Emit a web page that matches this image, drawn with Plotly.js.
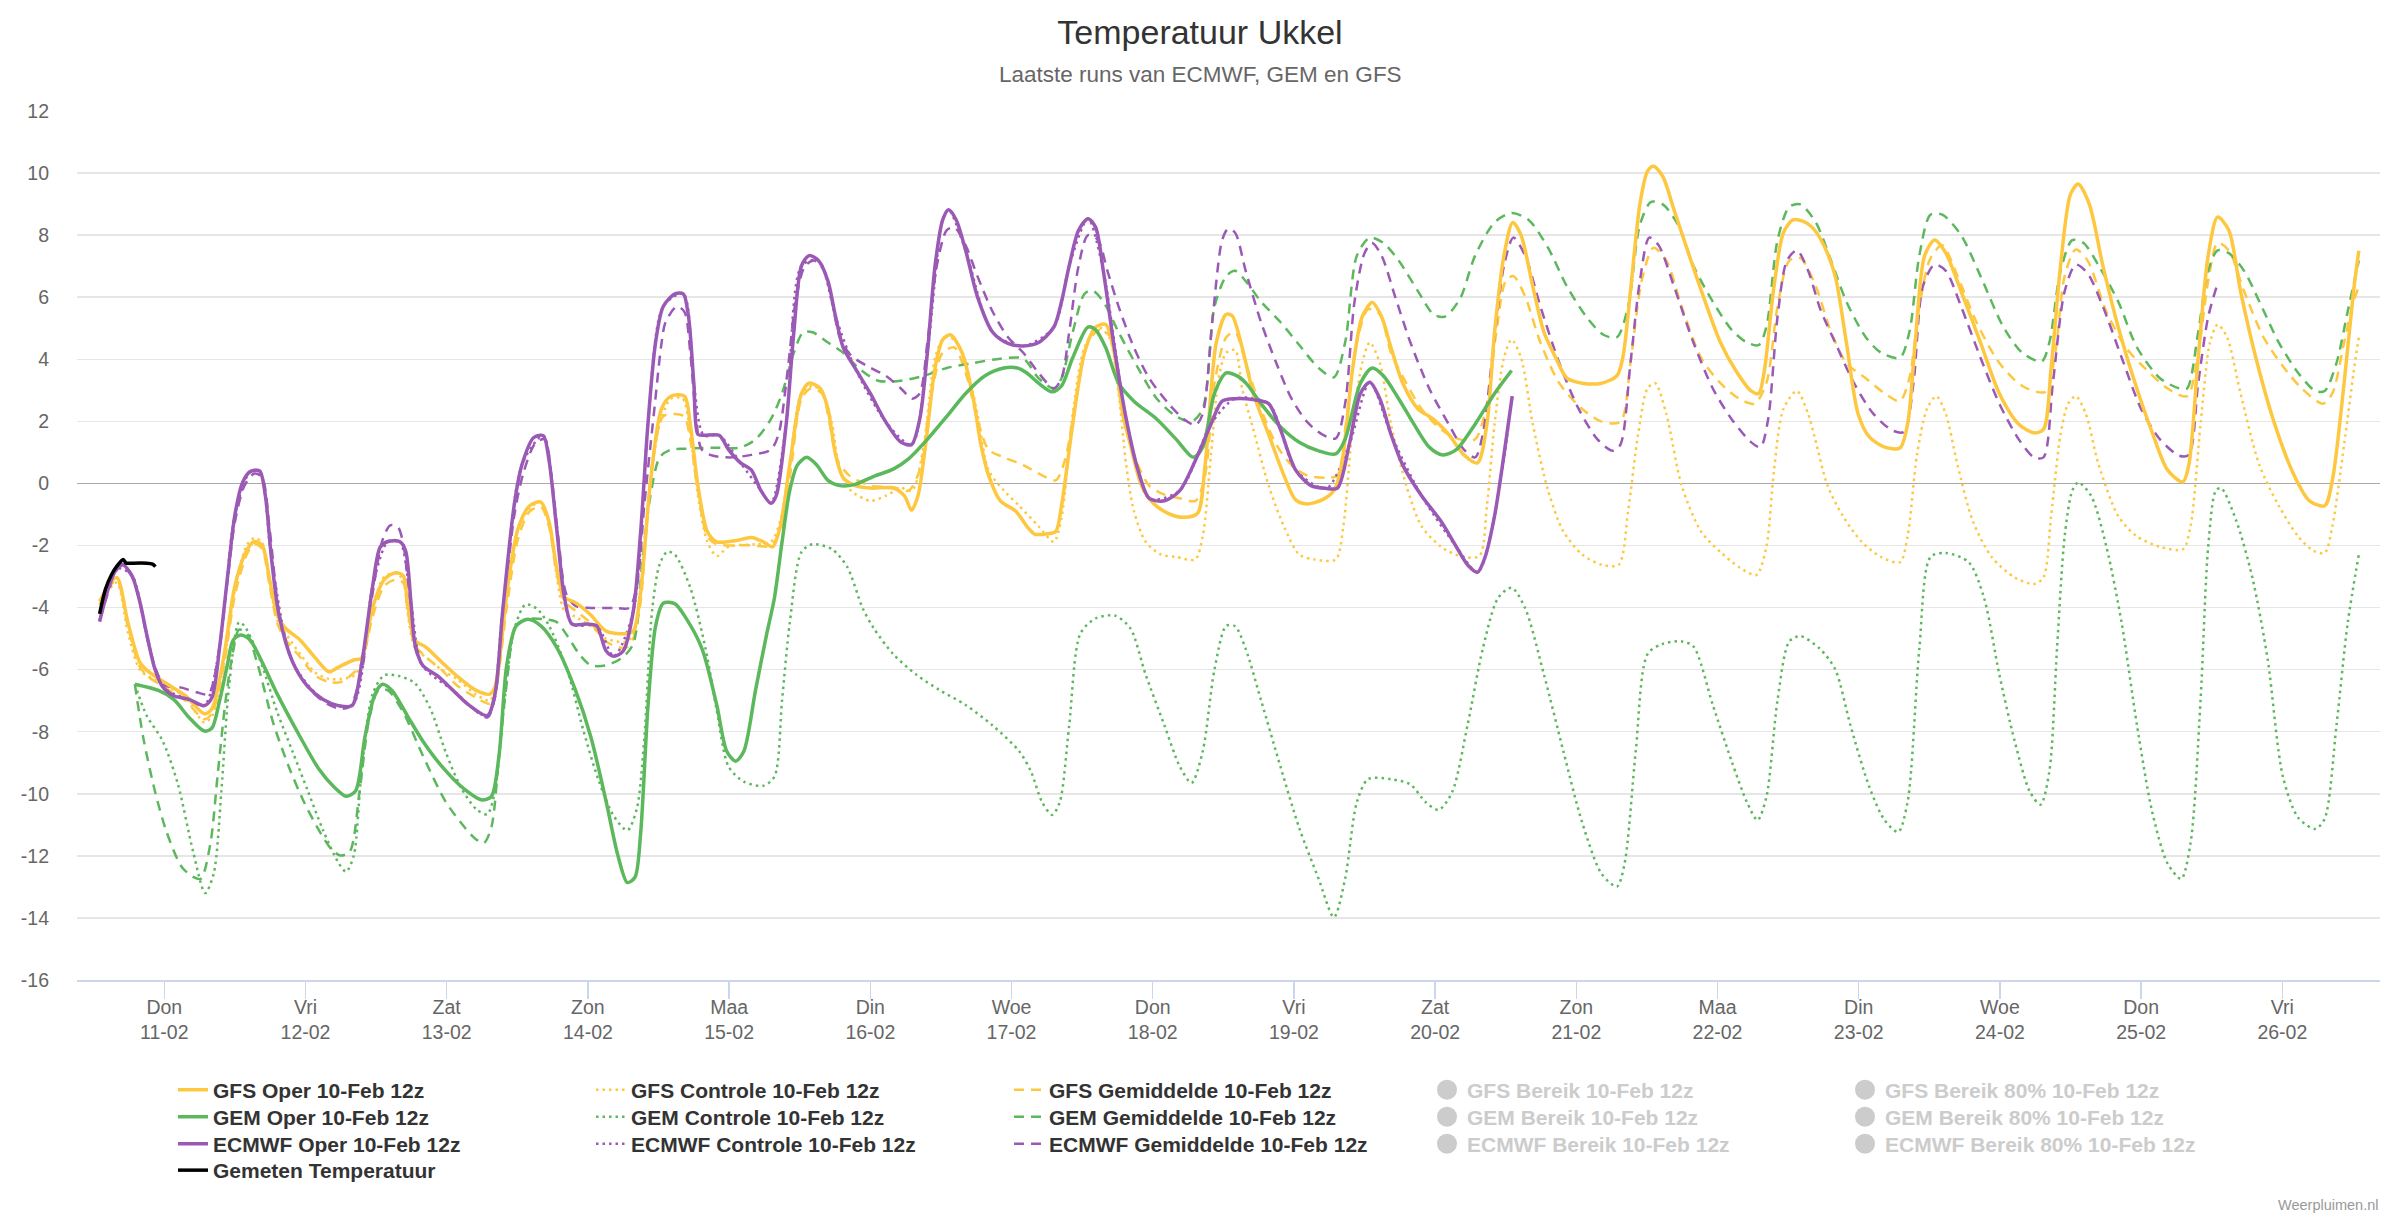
<!DOCTYPE html>
<html>
<head>
<meta charset="utf-8">
<script src="https://cdn.plot.ly/plotly-3.0.1.min.js"></script>
<style>
html,body{margin:0;padding:0;background:#fff;}
#chart{width:2400px;height:1219px;}
</style>
</head>
<body>
<div id="chart"></div>
<script>
// ---- time axis: hours relative to 11-02 00:00 (local) ----
const baseDay = [2021, 1, 11];
const axisStartH = -14.84;
const axisEndH = 376.6;

const tickDays = ['2021-02-11','2021-02-12','2021-02-13','2021-02-14','2021-02-15','2021-02-16','2021-02-17','2021-02-18','2021-02-19','2021-02-20','2021-02-21','2021-02-22','2021-02-23','2021-02-24','2021-02-25','2021-02-26'];
const tickDayNames = ['Don','Vri','Zat','Zon','Maa','Din','Woe','Don','Vri','Zat','Zon','Maa','Din','Woe','Don','Vri'];
const tickDates = ['11-02','12-02','13-02','14-02','15-02','16-02','17-02','18-02','19-02','20-02','21-02','22-02','23-02','24-02','25-02','26-02'];
const yTickVals = [-16,-14,-12,-10,-8,-6,-4,-2,0,2,4,6,8,10,12];
const yTickText = ['-16','-14','-12','-10','-8','-6','-4','-2','0','2','4','6','8','10','12'];

// ---- GFS Oper ----
const gfsOperH = [-11,-8.1,-6.2,-4.2,-2.9,0.3,3.6,6.8,8.1,10.1,12,14,15.3,16.6,17.9,19.2,20.5,23.1,25.7,28,29.6,32.2,33.5,35.4,37.4,39.3,40.6,41.3,42.6,44.5,47.1,49.7,53,55.3,56.2,58.2,60.1,62.1,64,65.4,66.7,68,69.9,72.5,75.1,78.4,79.7,80.9,82.6,84.5,86.1,88.4,89.4,90.7,92.3,93.9,97.2,99.8,101.8,103.4,104.7,106.3,108.3,109.6,111.5,112.8,114.1,115.4,117.4,120,123.9,125.8,127,128.1,129.4,131,132.3,133.6,135.6,137.5,138.8,140.1,142.1,144.7,146.6,147.9,149.9,151.5,152.5,154.4,156.4,158.3,160,161.3,162.9,164.2,166.1,168.1,170.7,173.3,175.6,176.9,178.8,180.5,181.5,183.2,185.1,187.7,190.3,192.3,194.2,196.8,198.8,200.1,202,203.6,205.3,206.9,208.5,210.5,213.1,215.7,218.3,220.9,223.2,224.8,226.1,227.7,229.2,230.6,232.6,234.5,236.5,238.4,241,244.3,246.9,247.9,249.2,250.8,252.1,253.1,254.7,256.6,259.2,261.9,264.5,267.1,269.7,271,271.9,273.6,275.2,276.8,278.5,280.1,282,284,285.9,287.9,289.8,292.4,295,296.3,297.6,299.2,300.9,302.8,305.4,308.7,311.9,315.2,317.8,319.4,320.7,322.3,324,325.3,327.2,329.5,332.1,334.7,338,340.5,343.1,344.1,345.7,347.4,349,350.9,352.9,355.5,358.7,362,364.6,367.2,368.5,370.5,372.1,373];
const gfsOperT = [-3.8,-3.03,-4.47,-5.75,-6.03,-6.44,-6.84,-7.42,-7.25,-5.6,-3.3,-2.16,-1.87,-1.98,-3.09,-4.24,-4.65,-5.05,-5.63,-6.07,-5.92,-5.69,-5.63,-4.0,-3.09,-2.88,-2.97,-3.78,-5.05,-5.28,-5.75,-6.2,-6.67,-6.79,-6.56,-3.55,-1.47,-0.72,-0.6,-1.24,-2.74,-3.66,-3.84,-4.24,-4.76,-4.84,-4.76,-3.6,0.0,2.4,2.81,2.81,1.9,-0.07,-1.55,-1.88,-1.84,-1.74,-1.88,-2.04,-1.38,0.59,2.9,3.23,3.06,2.4,0.92,0.18,-0.07,-0.15,-0.15,-0.4,-0.86,-0.4,1.25,3.72,4.63,4.79,4.21,2.73,1.25,0.26,-0.56,-0.89,-1.38,-1.63,-1.63,-1.55,-0.72,1.91,4.21,5.04,5.12,4.38,2.24,1.25,-0.07,-0.64,-0.97,-1.09,-0.97,0.59,4.54,5.45,5.4,4.38,2.9,1.58,0.26,-0.53,-0.66,-0.53,-0.23,0.59,3.72,5.37,5.83,5.37,4.38,3.23,2.4,2.07,1.58,0.92,0.66,1.91,4.87,7.34,8.41,8.0,6.35,4.87,4.05,3.39,3.23,3.23,3.47,4.05,6.19,8.99,10.06,10.22,9.89,8.82,7.34,5.86,4.54,3.64,2.98,2.9,3.56,6.35,8.08,8.49,8.45,8.25,7.7,6.68,4.54,2.24,1.5,1.17,1.14,1.91,4.54,7.34,7.84,7.42,6.19,4.54,2.9,1.91,1.63,1.74,3.72,7.01,9.32,9.65,8.99,7.01,5.04,3.39,1.58,0.43,0.05,0.59,4.05,7.34,8.58,8.16,6.19,4.05,1.91,0.26,-0.56,-0.72,0.1,3.23,6.19,7.5];

// ---- GFS Controle ----
const gfsCtrlH = [-11,-8.1,-6.2,-4.2,-2.9,0.3,3.6,6.8,8.1,10.1,12,14,15.3,16.6,17.9,19.2,20.5,23.1,25.7,28,30,32.2,33.5,35.4,37.4,39.3,40.6,41.3,42.6,44.5,47.1,49.7,53,55.3,56.2,58.2,60.1,62.1,64,65.4,66.7,68,69.9,72.5,75.1,78.4,79.7,80.9,82.6,84.2,86.1,88.1,89.4,90.7,92.3,93.9,95.9,100.5,103.1,104.7,106.3,108.3,110.2,111.8,113.5,114.8,116.7,120,122.6,125.2,127.1,129.1,131,132.6,134.3,136.2,138.2,140.1,142.7,145.3,148.6,151.2,152.5,154.4,156.4,158.7,160.6,162.2,163.5,164.8,166.8,169.4,172,175.2,176.5,177.9,179.2,180.5,182,183.2,185.1,187.7,190.3,192.9,195.5,199.1,200.4,202,203.6,204.9,206.6,208.5,211.1,213.7,217,220.2,223.5,224.8,226.1,227.7,229,230.6,232.6,235.2,237.8,241,244.3,247.2,248.8,250.5,252.1,253.4,255.3,257.9,261.2,264.5,267.7,270.6,272.3,273.6,275.2,277.5,279.4,280.5,282.7,285.3,288.5,291.8,295,296.3,297.9,299.6,301.2,302.8,304.8,307.4,310.6,314.5,317.8,319.4,320.7,322.3,323.6,324.9,326.6,328.8,332.1,335.3,339.2,343.1,344.4,346.1,347.7,349,350.6,352.9,356.1,359.4,362.7,365.3,367.2,368.5,370.5,372.1,373];
const gfsCtrlT = [-3.9,-3.2,-4.8,-6.0,-6.2,-6.5,-6.9,-7.7,-7.5,-5.8,-3.4,-2.0,-1.76,-1.9,-3.2,-4.4,-4.8,-5.5,-6.1,-6.3,-6.3,-6.2,-5.8,-4.0,-3.0,-2.9,-3.1,-4.1,-5.3,-5.6,-6.0,-6.3,-6.8,-7.0,-6.7,-3.7,-1.5,-0.8,-0.6,-1.3,-3.0,-4.1,-4.3,-4.6,-5.0,-5.1,-4.9,-3.7,0.0,1.9,2.73,2.73,1.58,-0.4,-1.88,-2.34,-2.04,-1.96,-1.88,-1.2,0.6,2.9,3.14,2.95,1.91,0.43,-0.23,-0.56,-0.4,-0.15,-0.23,1.25,4.05,4.71,4.63,3.88,2.24,0.43,-0.23,-0.72,-1.38,-1.88,-1.1,2.24,4.38,5.04,4.71,2.9,0.59,-0.89,-1.88,-2.29,-2.37,-2.45,-1.7,0.92,3.39,4.21,4.3,3.06,1.74,-0.07,-1.38,-2.29,-2.45,-2.45,-1.38,1.91,3.88,4.54,3.88,1.91,-0.07,-1.38,-2.04,-2.34,-2.34,-0.72,1.91,4.05,4.63,4.05,1.91,-0.23,-1.55,-2.29,-2.62,-2.62,-0.89,1.58,3.06,3.23,2.24,-0.07,-1.55,-2.21,-2.7,-2.95,-2.04,0.43,2.4,2.98,2.24,1.5,-0.07,-1.05,-1.88,-2.37,-2.54,-1.71,0.92,2.4,2.81,2.24,0.59,-1.22,-2.37,-3.03,-3.24,-3.03,-1.05,1.58,2.57,2.81,2.24,0.59,-1.05,-1.71,-2.04,-2.12,-1.38,1.91,4.54,5.12,4.71,2.9,0.59,-0.72,-1.71,-2.17,-2.24,-1.38,1.25,3.56,4.71];

// ---- GFS Gemiddelde ----
const gfsMeanH = [-11,-8.1,-6.2,-4.2,-2.9,0.3,3.6,6.8,8.1,10.1,12,14,15.3,16.6,17.9,19.2,20.5,23.1,25.7,28,30,32.2,33.5,35.4,37.4,39.3,40.6,41.3,42.6,44.5,47.1,49.7,53,55.3,56.2,58.2,60.1,62.1,64,65.4,66.7,68,69.9,72.5,75.1,78.4,79.7,80.9,82.9,84.8,86.8,88.4,89.4,90.7,92.3,93.9,99.2,103.1,105,106.6,108.3,109.9,111.8,113.1,114.4,116.4,120,123.9,126.5,128.4,130.4,132.3,134.3,136.2,138.2,140.1,142.7,146,149.2,151.5,153.1,155.1,157,159,160.9,162.9,164.8,167.4,170,172.6,175.3,176.9,178.5,180.5,182,183.8,186.4,189,191.6,194.2,197.5,199.4,200.7,202.7,204.6,206.6,208.5,211.1,213.7,217,220.2,222.8,224.8,226.4,228,229.3,231.3,233.9,237.1,241,244.3,247.5,249.2,251.1,253.1,255.3,257.9,261.2,264.5,267.7,270.3,272.3,274.2,276.2,278.1,280.7,283.3,285.9,289.2,292.4,295,296.6,298.3,300.2,302.2,304.8,308,311.9,315.8,319.7,321.4,323,324.9,326.9,330.1,333.4,336.6,340.5,343.8,345.7,347.4,349,350.9,353.5,356.8,360,363.3,366.9,368.5,370.5,372.1,373];
const gfsMeanT = [-3.9,-3.1,-4.6,-5.9,-6.2,-6.6,-7.0,-7.6,-7.4,-5.9,-3.6,-2.3,-1.95,-2.1,-3.3,-4.5,-5.0,-5.6,-6.2,-6.4,-6.4,-6.1,-5.8,-4.3,-3.3,-3.1,-3.2,-4.0,-5.2,-5.6,-6.0,-6.5,-6.9,-7.1,-6.8,-4.0,-1.8,-0.9,-0.75,-1.4,-2.9,-3.8,-4.1,-4.5,-5.1,-5.3,-5.0,-3.9,0.6,2.16,2.24,2.16,1.4,-0.23,-1.71,-1.96,-1.99,-2.0,-1.38,0.59,2.73,3.06,2.9,1.91,0.76,0.26,-0.07,-0.12,-0.23,0.43,2.9,4.21,4.38,3.56,2.07,1.09,0.84,0.59,0.26,0.1,0.76,2.9,4.54,4.95,4.71,2.4,0.92,-0.07,-0.36,-0.48,-0.56,0.26,3.23,4.71,4.87,3.88,2.4,1.25,0.59,0.26,0.18,0.26,1.74,4.54,5.61,5.45,4.21,3.23,2.4,1.74,1.42,1.42,2.57,4.87,6.52,6.68,6.02,4.54,3.23,2.4,1.99,1.99,3.88,6.52,7.59,7.18,5.7,4.05,3.23,2.73,2.57,3.23,5.7,7.18,7.26,6.35,4.87,3.88,3.39,2.9,2.65,3.39,5.7,7.26,7.67,6.68,5.2,3.88,3.14,2.95,4.21,6.68,7.54,7.18,5.53,4.38,3.72,3.06,2.81,4.21,6.52,7.75,7.51,6.19,4.71,3.8,3.06,2.57,2.9,4.54,5.86,6.35];

// ---- GEM Oper ----
const gemOperH = [-5,-1,1.6,4.2,6.8,8.1,9.4,10.7,11.7,13,14.6,16.6,19.2,23.1,26.3,28.9,30.9,32.5,34.1,35.8,37.1,38.7,41.3,43.9,47.1,51,54,55.6,56.9,58.2,59.8,61.8,64,66.7,69.9,72.5,75.1,77.1,78.7,80,80.95,82.2,83.5,84.8,86.8,88.7,91.4,93.9,95.6,97.1,98.5,100.5,102.4,103.7,105,106.3,107.6,109.2,110.9,112.8,114.8,117.4,120.6,123.9,126.5,129.7,133,136.2,139.5,142.7,145,146.6,148.6,150.9,152.5,154.4,157,158.3,160,162.2,164.8,168.7,172,174.9,176.5,178.5,180.5,182.5,184,186.4,189.7,192.9,196.2,199.1,200.7,203.3,205.3,207.2,209.8,212.4,215,217.3,219.6,222.8,226.1,229];
const gemOperT = [-6.47,-6.67,-6.96,-7.54,-7.98,-7.88,-7.0,-5.86,-5.05,-4.88,-5.05,-5.75,-6.79,-8.17,-9.21,-9.79,-10.08,-9.91,-8.17,-6.79,-6.47,-6.67,-7.48,-8.29,-9.1,-9.85,-10.2,-10.08,-8.75,-5.86,-4.59,-4.38,-4.59,-5.28,-6.67,-8.17,-10.25,-11.99,-12.86,-12.69,-11.3,-7.2,-4.6,-3.86,-3.88,-4.35,-5.33,-7.14,-8.63,-8.95,-8.63,-6.65,-4.84,-3.69,-1.88,-0.23,0.59,0.84,0.59,0.1,-0.07,-0.03,0.23,0.46,0.79,1.42,2.16,2.9,3.47,3.72,3.72,3.56,3.23,2.95,3.14,4.05,5.04,4.95,4.38,3.23,2.65,2.07,1.42,0.84,1.17,2.9,3.56,3.45,3.2,2.57,1.83,1.33,1.05,0.95,1.42,3.23,3.72,3.47,2.73,1.91,1.17,0.92,1.09,1.91,2.9,3.64];

// ---- GEM Controle ----
const gemCtrlH = [-5,-3,-0.3,2.3,4.9,6.95,8.4,9.7,11,12.7,13.6,14.9,16.6,19.2,21.8,24.4,27,29.6,30.9,32.2,33.5,35.4,37.4,40,42.6,45.2,47.8,50.4,53,54.9,56.2,57.5,59.5,61.4,63.4,65.4,68.6,71.2,73.8,76.4,78.7,80.3,81.6,82.9,84.2,85.5,86.8,89.4,92,93.9,95.9,98.5,101.8,103.7,105,106.3,108.3,110.2,113.5,116.1,118.7,120.6,123.9,127.8,131.7,136.2,140.8,145.3,147.3,149.2,150.9,152.2,153.8,155.7,158.3,161.6,164.2,166.8,170,172.6,174.6,176.5,178.5,180.5,182,183.8,186.4,189.7,192.9,196.2,198.8,200.7,202.7,204.6,208.5,211.8,214.4,216.6,218.9,221.5,224.1,226.7,229,231.3,234.5,237.8,241,244.3,246.9,248.2,250.1,252.1,254.7,257.9,259.9,263.2,266.4,269,270.8,272.3,274.2,276.2,278.1,281.4,284,286.6,289.8,292.4,294.7,296.3,298.3,300.2,302.8,306.7,309.3,311.9,314.5,317.1,318.9,320.4,321.7,323,324.3,325.3,327.5,330.1,332.7,335.3,337.9,340.5,342.8,344.4,346.1,347.4,348.7,349.6,352.2,354.9,357.5,360.1,362.7,365.6,367.2,369.2,371.1,373];
const gemCtrlT = [-6.47,-7.48,-8.29,-9.68,-11.87,-13.2,-12.57,-9.91,-6.55,-4.47,-4.59,-5.05,-5.86,-7.37,-8.64,-9.91,-11.18,-12.22,-12.51,-11.99,-9.33,-6.79,-6.18,-6.21,-6.44,-7.25,-8.64,-9.79,-10.49,-10.66,-9.91,-7.6,-4.7,-3.9,-4.05,-4.59,-6.09,-7.94,-9.56,-10.72,-11.18,-10.49,-8.17,-4.12,-2.6,-2.2,-2.3,-3.36,-5.33,-7.31,-9.12,-9.61,-9.74,-9.45,-6.98,-4.51,-2.21,-1.96,-2.12,-2.7,-4.02,-4.67,-5.5,-6.16,-6.65,-7.14,-7.8,-8.63,-9.28,-10.27,-10.68,-10.27,-7.8,-4.84,-4.35,-4.26,-4.67,-6.16,-7.8,-9.12,-9.65,-8.63,-5.99,-4.59,-4.6,-5.33,-6.98,-9.12,-11.1,-12.74,-13.98,-12.74,-10.27,-9.53,-9.53,-9.7,-10.27,-10.52,-9.94,-7.8,-5.33,-3.69,-3.36,-4.02,-6.16,-8.63,-10.93,-12.58,-12.99,-12.25,-8.63,-5.5,-5.17,-5.09,-5.25,-7.14,-8.95,-10.27,-10.85,-10.11,-6.98,-5.09,-4.92,-5.33,-5.99,-7.8,-9.78,-10.85,-11.23,-10.27,-5.33,-2.37,-2.24,-2.54,-3.69,-6.16,-8.3,-9.94,-10.35,-9.28,-5.33,-1.71,-0.23,0.03,-0.4,-2.04,-4.51,-7.8,-10.6,-12.25,-12.74,-11.59,-6.98,-2.04,-0.23,-0.15,-1.22,-3.03,-5.66,-9.45,-10.77,-11.13,-10.8,-7.8,-4.51,-2.29];

// ---- GEM Gemiddelde ----
const gemMeanH = [-5,-3.6,-1.6,0.3,2.9,4.9,6.2,7.8,9.1,10.4,11.7,12.7,14,15.9,18.5,21.1,23.7,26.3,28.3,29.9,31.5,33.2,34.8,36.4,38,40.6,43.9,47.8,51,53,54.3,55.6,56.9,58.2,59.8,62.1,64.7,66.7,68.6,70.6,72.5,75.1,77.7,79.7,81.3,82.6,84.2,86,88.7,93.9,97.8,100.5,103.1,105,107,108.6,110.2,112.8,115.4,118,121.3,125.2,129.1,133,137.5,142.1,146,148.6,151.2,152.5,154.4,156.4,157.7,159.6,162.2,165.5,168.7,172,174.6,176.5,178.5,180.5,182,183.8,186.4,189.7,192.9,196.2,198.8,200.7,202.7,204.9,207.2,209.8,213.1,215.7,217.6,220.2,222.8,226.1,229,231.9,235.2,238.4,241.7,244.6,246.9,248.8,250.8,252.7,254.7,257.3,259.9,263.2,266.4,269,271,272.3,274.2,276.2,278.1,280.7,283.3,285.9,289.2,291.8,295,296.6,298.3,300.2,302.2,305.4,308.7,312.6,315.8,319.1,320.4,322.3,324.3,326.2,328.8,332.1,335.3,339.2,342.5,343.8,345.7,347.4,349,350.9,353.5,356.1,359.4,362.7,365.6,367.2,369.2,371.1,373];
const gemMeanT = [-6.47,-8.17,-9.91,-11.18,-12.34,-12.68,-12.74,-11.64,-9.33,-7.02,-5.4,-4.71,-4.82,-5.86,-7.71,-9.1,-10.25,-11.18,-11.76,-11.99,-11.87,-9.91,-7.6,-6.67,-6.67,-7.37,-8.75,-10.25,-11.07,-11.47,-11.59,-11.07,-8.75,-6.44,-4.59,-4.36,-4.38,-4.47,-4.94,-5.52,-5.86,-5.86,-5.63,-5.17,-2.39,-0.43,0.84,1.08,1.12,1.15,1.15,1.42,2.07,2.9,4.21,4.87,4.87,4.54,4.21,3.72,3.31,3.31,3.47,3.72,3.88,4.02,4.02,3.39,3.06,3.39,4.87,6.11,6.22,5.86,4.87,3.72,2.73,2.16,1.99,2.4,5.7,6.68,6.85,6.52,5.86,5.2,4.46,3.72,3.42,4.54,7.34,7.92,7.75,7.18,6.19,5.45,5.37,5.94,7.34,8.41,8.71,8.49,7.59,6.35,5.37,4.79,4.71,5.7,8.33,9.07,8.99,8.33,7.01,5.86,4.95,4.54,4.46,5.04,7.84,8.91,8.99,8.41,7.18,5.86,4.71,4.21,4.05,4.87,7.34,8.66,8.66,8.0,6.68,5.04,4.21,3.93,4.54,6.85,7.84,7.75,7.01,5.86,4.38,3.39,3.06,3.06,4.87,6.85,7.51,7.42,6.85,5.86,4.54,3.56,2.98,2.98,3.88,5.53,7.18];

// ---- ECMWF Oper ----
const ecOperH = [-11,-9.4,-8.1,-7.2,-5.5,-4.2,-2.9,-1.6,-0.3,1.6,4.2,6.8,8.1,9.4,10.7,12,13.3,14.6,16.2,17.2,18.2,19.5,21.8,24.4,27,29.6,31.9,33.5,35.4,36.7,38,40,41,41.9,42.6,43.9,46.5,49.1,51.7,54.9,56.2,57.5,59.5,60.8,62.8,64.4,65.4,66.7,68,69.3,71.9,73.5,75.1,76.4,78,79.7,80.95,82.2,83.5,84.8,86.8,88.2,89.1,90,90.7,91.7,94.3,95.9,97.9,99.8,101.4,103.1,104,105.7,107,108.3,109.6,111.2,112.8,114.1,115.4,117.4,120,122.6,125.2,127,128.4,129.7,131,132.3,133.3,134.6,136.2,138.2,140.8,143.4,146,148.6,151.2,152.5,153.8,155.4,157,158.3,159.6,161.6,163.5,165.5,167.4,170,172.6,175.3,177.9,179.8,182,185.1,187.7,189.7,192.3,194.9,197.5,199.4,201.4,203.3,204.9,206.6,208.5,210.5,213.7,217,219.6,221.5,223.2,224.5,226.1,227.7,229.1];
const ecOperT = [-4.45,-3.32,-2.74,-2.6,-2.97,-3.78,-4.94,-5.98,-6.55,-6.84,-6.96,-7.16,-6.9,-5.28,-3.09,-1.01,0.03,0.38,0.4,-0.43,-2.39,-4.24,-5.75,-6.55,-6.96,-7.16,-7.16,-5.86,-3.32,-2.05,-1.87,-1.87,-2.16,-3.78,-5.17,-5.86,-6.21,-6.67,-7.13,-7.48,-6.79,-4.13,-0.66,0.61,1.48,1.54,0.73,-1.47,-3.66,-4.53,-4.53,-4.59,-5.4,-5.57,-5.4,-4.13,-1.6,1.91,4.54,5.7,6.11,6.11,5.37,3.23,1.58,1.55,1.55,1.09,0.67,0.43,-0.23,-0.64,-0.4,1.91,4.87,7.01,7.34,7.18,6.52,5.37,4.38,3.72,2.9,1.99,1.33,1.25,2.07,4.21,7.01,8.49,8.82,8.49,7.51,6.02,4.87,4.51,4.43,4.54,5.04,5.86,7.01,8.16,8.53,8.25,6.85,4.21,2.07,0.43,-0.48,-0.56,-0.23,0.76,1.91,2.65,2.73,2.7,2.57,1.74,0.43,-0.07,-0.16,-0.15,1.25,2.9,3.26,2.73,1.58,0.59,-0.4,-1.22,-2.04,-2.62,-2.86,-2.37,-1.05,0.92,2.81];

// ---- ECMWF Controle (lies under the Oper line) ----
const ecCtrlH = [-11,-8.1,-5.5,-2.9,-0.3,4.2,6.8,9.4,12,14.6,16.2,18.2,21.8,27,31.9,35.4,38,40,41.9,43.9,49.1,54.9,57.5,60.8,64.4,66.7,69.3,73.5,76.4,79.7,82.2,84.8,88.2,90,91.7,94.3,97.9,101.4,103.1,105.7,108.3,111.2,114.1,117.4,122.6,127,129.7,132.3,133.3,136.2,140.8,146,151.2,153.8,157,159.6,163.5,167.4,172.6,177.9,182,187.7,192.3,197.5,201.4,204.9,208.5,213.7,219.6,223.2,226.1,229.1];
const ecCtrlT = [-4.45,-2.74,-2.97,-4.94,-6.55,-6.96,-7.16,-5.28,-1.01,0.38,0.4,-2.39,-5.75,-6.96,-7.16,-3.32,-1.87,-1.87,-3.78,-5.86,-6.67,-7.48,-4.13,0.61,1.54,-1.47,-4.53,-4.59,-5.57,-4.13,1.91,5.7,6.11,3.23,1.55,1.55,0.67,-0.23,-0.64,1.91,7.01,7.18,5.37,3.72,1.99,1.25,4.21,8.49,8.82,7.51,4.87,4.43,5.04,7.01,8.53,6.85,2.07,-0.48,-0.23,1.91,2.73,2.57,0.43,-0.16,1.25,3.26,1.58,-0.4,-2.04,-2.86,-1.05,2.81];

// ---- ECMWF Gemiddelde ----
const ecMeanH = [-11,-8.1,-7.2,-5.5,-4.2,-2.9,-1.6,0,2.9,5.5,7.5,8.8,10.7,12,13.6,15.3,16.6,17.9,19.5,21.8,24.4,27,29.6,31.5,33.5,35.4,37.1,38.4,39.7,40.6,41.6,42.6,43.9,46.5,49.1,51.7,54.9,56.2,57.5,59.5,61.1,63.1,64.7,65.7,67,68.3,69.9,72.5,76.4,79,80.3,81.6,83.2,84.5,85.2,87.1,88.4,89.4,90.4,91.35,93.3,96.5,99.8,103.1,104.4,106,107.3,108.9,110.5,112.2,113.5,114.8,116.7,119.3,122.6,125.2,127.1,128.4,129.7,131.3,133,134.3,136.2,138.2,140.8,143.4,146,148.6,151.2,152.5,153.8,155.4,157,158.7,160.3,162.2,164.8,167.4,170.7,173.3,175.3,176.5,178.2,179.8,180.8,182,183.8,186.4,189,191.6,194.2,196.8,199.1,200.7,202.3,204,205.3,206.9,209.2,211.8,215,218.3,220.9,222.8,224.1,225.8,227.7,229.3,231.3,233.9,237.1,240.4,243.6,246.2,247.5,249.2,250.8,252.4,254,256.6,259.9,263.2,266.4,269.7,271.3,272.6,274.2,275.8,277.5,279.4,281.5,284,287.2,290.5,293.7,295.7,297.3,298.9,300.9,302.8,305.4,308.7,311.9,315.2,317.8,319.4,321,323,324.9,326.9,329.5,332.7,336,339.2,342.5,344.1,345.7,347.4,349];
const ecMeanT = [-4.4,-2.8,-2.65,-3.0,-3.8,-5.0,-5.9,-6.5,-6.58,-6.73,-6.79,-5.98,-3.2,-1.24,-0.08,0.32,0.2,-1.47,-4.13,-5.75,-6.55,-7.02,-7.25,-7.2,-6.09,-3.55,-1.82,-1.35,-1.41,-1.93,-3.55,-5.28,-5.86,-6.21,-6.67,-7.13,-7.54,-6.9,-4.47,-1.01,0.38,1.31,1.42,0.38,-1.82,-3.55,-3.95,-4.01,-4.01,-4.01,-3.32,-0.66,2.23,4.5,5.2,5.7,5.53,4.21,2.07,1.09,0.89,0.84,0.92,1.09,1.58,3.72,5.86,7.01,7.18,6.85,5.86,4.71,4.13,3.8,3.47,3.06,2.73,2.9,4.54,7.01,8.16,8.25,7.67,6.68,5.53,4.71,4.21,3.56,3.06,3.39,4.87,7.01,8.0,7.84,6.85,5.7,4.38,3.39,2.57,2.07,1.88,2.24,5.37,7.84,8.2,8.08,6.85,5.2,3.88,2.73,1.99,1.58,1.45,2.57,5.86,7.42,7.75,7.34,6.02,4.54,3.06,1.91,1.09,0.84,1.58,4.21,7.01,7.92,7.34,5.7,3.88,2.4,1.42,1.05,1.25,3.88,6.52,7.92,7.67,6.35,4.54,3.06,2.07,1.33,1.17,2.07,5.37,7.18,7.51,6.85,5.6,4.54,3.23,2.24,1.71,1.66,3.23,6.35,7.05,6.85,5.7,4.05,2.57,1.42,0.84,0.84,3.23,6.19,7.05,6.77,5.7,4.05,2.4,1.42,0.89,0.92,3.23,5.37,6.44];

// ---- Gemeten Temperatuur ----
const obsH = [-11,-10,-9,-8,-7,-6.5,-6,-3,-2,-1.5];
const obsT = [-4.2,-3.4,-2.95,-2.65,-2.45,-2.57,-2.57,-2.57,-2.6,-2.68];

// ---- range series: switched off in the chart (legend only, no plotted values) ----
const gfsRangeH = [null], gfsRangeT = [null];
const gemRangeH = [null], gemRangeT = [null];
const ecRangeH = [null], ecRangeT = [null];
const gfsRange80H = [null], gfsRange80T = [null];
const gemRange80H = [null], gemRange80T = [null];
const ecRange80H = [null], ecRange80T = [null];

// ---- helpers ----
function toDate(h) {
  if (h === null) return null;
  const ms = Date.UTC(baseDay[0], baseDay[1], baseDay[2]) + h * 3600000;
  return new Date(ms).toISOString().slice(0, 19).replace('T', ' ');
}
const X = arr => arr.map(toDate);

const C_GFS = '#fdc840';
const C_GEM = '#5cb85c';
const C_EC = '#9b59b6';
const DASH = '10px,7px';
const DOT = '2.5px,4px';
const W_OPER = 3.5, W_THIN = 2.5;
const SMOOTH = 0.8;

function line(name, h, t, color, width, dash, legend, rank) {
  return {
    type: 'scatter', mode: 'lines', name: name, x: X(h), y: t,
    line: {color: color, width: width, dash: dash, shape: 'spline', smoothing: SMOOTH},
    legend: legend, legendrank: rank, hoverinfo: 'skip'
  };
}
function rangeItem(name, h, t, legend, rank) {
  return {
    type: 'scatter', mode: 'markers', name: '<span style="color:#cccccc">' + name + '</span>',
    x: X(h), y: t,
    marker: {color: '#cccccc', size: 16, symbol: 'circle', line: {color: '#cccccc', width: 4}},
    legend: legend, legendrank: rank, hoverinfo: 'skip'
  };
}

const traces = [
  line('GFS Controle 10-Feb 12z', gfsCtrlH, gfsCtrlT, C_GFS, W_THIN, DOT, 'legend', 2),
  line('GFS Gemiddelde 10-Feb 12z', gfsMeanH, gfsMeanT, C_GFS, W_THIN, DASH, 'legend', 3),
  line('GEM Controle 10-Feb 12z', gemCtrlH, gemCtrlT, C_GEM, W_THIN, DOT, 'legend2', 2),
  line('GEM Gemiddelde 10-Feb 12z', gemMeanH, gemMeanT, C_GEM, W_THIN, DASH, 'legend2', 3),
  line('ECMWF Controle 10-Feb 12z', ecCtrlH, ecCtrlT, C_EC, W_THIN, DOT, 'legend3', 2),
  line('ECMWF Gemiddelde 10-Feb 12z', ecMeanH, ecMeanT, C_EC, W_THIN, DASH, 'legend3', 3),
  line('GFS Oper 10-Feb 12z', gfsOperH, gfsOperT, C_GFS, W_OPER, 'solid', 'legend', 1),
  line('GEM Oper 10-Feb 12z', gemOperH, gemOperT, C_GEM, W_OPER, 'solid', 'legend2', 1),
  line('ECMWF Oper 10-Feb 12z', ecOperH, ecOperT, C_EC, W_OPER, 'solid', 'legend3', 1),
  line('Gemeten Temperatuur', obsH, obsT, '#000000', W_OPER, 'solid', 'legend4', 1),
  rangeItem('GFS Bereik 10-Feb 12z', gfsRangeH, gfsRangeT, 'legend', 4),
  rangeItem('GFS Bereik 80% 10-Feb 12z', gfsRange80H, gfsRange80T, 'legend', 5),
  rangeItem('GEM Bereik 10-Feb 12z', gemRangeH, gemRangeT, 'legend2', 4),
  rangeItem('GEM Bereik 80% 10-Feb 12z', gemRange80H, gemRange80T, 'legend2', 5),
  rangeItem('ECMWF Bereik 10-Feb 12z', ecRangeH, ecRangeT, 'legend3', 4),
  rangeItem('ECMWF Bereik 80% 10-Feb 12z', ecRange80H, ecRange80T, 'legend3', 5)
];

const plotL = 77, plotR = 2380, plotT = 111, plotB = 980;
const pw = plotR - plotL, ph = plotB - plotT;
const py = Y => (plotB - Y) / ph;
const px = Xp => (Xp - plotL) / pw;

const legendFont = {family: 'Liberation Sans, Arial, sans-serif', size: 21, color: '#333333', weight: 'bold'};
function legendRow(yCenter) {
  return {
    orientation: 'h', x: px(173), xanchor: 'left', y: py(yCenter), yanchor: 'middle',
    entrywidth: 373, entrywidthmode: 'pixels', font: legendFont,
    bgcolor: 'rgba(0,0,0,0)', borderwidth: 0, traceorder: 'normal',
    itemclick: false, itemdoubleclick: false, tracegroupgap: 0
  };
}

const layout = {
  width: 2400, height: 1219,
  paper_bgcolor: '#ffffff', plot_bgcolor: '#ffffff',
  margin: {l: plotL, r: 2400 - plotR, t: plotT, b: 1219 - plotB, autoexpand: false},
  font: {family: 'Liberation Sans, Arial, sans-serif', color: '#333333'},
  title: {
    text: 'Temperatuur Ukkel', x: 0.5, xref: 'container', xanchor: 'center',
    y: 1 - 32 / 1219, yref: 'container', yanchor: 'middle',
    font: {family: 'Liberation Sans, Arial, sans-serif', size: 34, color: '#333333'}
  },
  annotations: [
    {text: 'Laatste runs van ECMWF, GEM en GFS', xref: 'paper', yref: 'paper',
     x: px(1200), y: py(75), xanchor: 'center', yanchor: 'middle', showarrow: false,
     font: {family: 'Liberation Sans, Arial, sans-serif', size: 22.5, color: '#666666'}},
    {text: 'Weerpluimen.nl', xref: 'paper', yref: 'paper',
     x: 1, y: py(1205), xanchor: 'right', yanchor: 'middle', showarrow: false,
     font: {family: 'Liberation Sans, Arial, sans-serif', size: 14.5, color: '#999999'}}
  ],
  xaxis: {
    type: 'date', range: [toDate(axisStartH), toDate(axisEndH)],
    tickvals: tickDays.map(d => d + ' 00:00:00'),
    ticktext: tickDayNames.map((d, i) => d + '<br>' + tickDates[i]),
    ticks: 'outside', ticklen: 17, tickwidth: 1.5, tickcolor: '#ccd6eb',
    ticklabelstandoff: -8,
    showline: true, linecolor: '#ccd6eb', linewidth: 1.5,
    showgrid: false, zeroline: false,
    tickfont: {family: 'Liberation Sans, Arial, sans-serif', size: 19.5, color: '#666666'}
  },
  yaxis: {
    range: [-16, 12], tickvals: yTickVals, ticktext: yTickText,
    showgrid: true, gridcolor: '#e6e6e6', gridwidth: 1.5,
    zeroline: true, zerolinecolor: '#aaaaaa', zerolinewidth: 1.5,
    showline: false, ticks: '', ticklabelstandoff: 27,
    tickfont: {family: 'Liberation Sans, Arial, sans-serif', size: 19.5, color: '#666666'}
  },
  showlegend: true,
  legend: legendRow(1090),
  legend2: legendRow(1117),
  legend3: legendRow(1144),
  legend4: legendRow(1170.5)
};

Plotly.newPlot('chart', traces, layout, {staticPlot: true, displayModeBar: false});
</script>
</body>
</html>
